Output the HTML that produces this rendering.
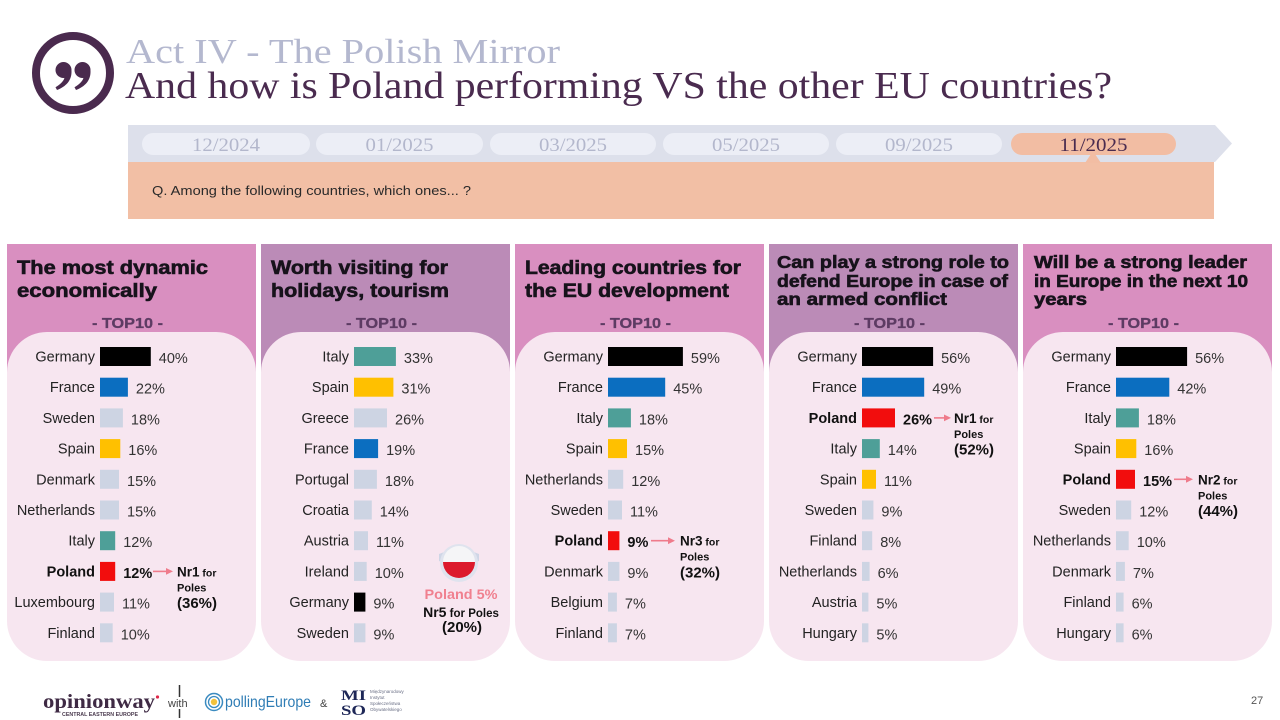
<!DOCTYPE html>
<html><head><meta charset="utf-8">
<style>
html,body{margin:0;padding:0;background:#fff;}
svg{display:block;}
.s{font-family:"Liberation Sans",sans-serif;}
.sf{font-family:"Liberation Serif",serif;}
.lb{font-family:"Liberation Sans",sans-serif;font-size:14.5px;fill:#222;text-anchor:end;}
.vl{font-family:"Liberation Sans",sans-serif;font-size:14.5px;fill:#333;}
.b{font-weight:bold;fill:#111;}
.ht{font-family:"Liberation Sans",sans-serif;font-weight:bold;fill:#17121b;stroke:#17121b;stroke-width:0.6px;}
.tp{font-family:"Liberation Sans",sans-serif;font-weight:bold;font-size:14.5px;fill:#5d3b63;stroke:#5d3b63;stroke-width:0.3px;text-anchor:middle;}
.an{font-family:"Liberation Sans",sans-serif;font-weight:bold;fill:#111;}
.pl{font-family:"Liberation Serif",serif;font-size:19px;fill:#b3b7cc;text-anchor:middle;}
</style></head>
<body>
<svg width="1280" height="720" viewBox="0 0 1280 720" xmlns="http://www.w3.org/2000/svg">
<rect width="1280" height="720" fill="#fff"/>

<!-- quote icon -->
<circle cx="73" cy="73" r="37" fill="none" stroke="#4a2a4e" stroke-width="8"/>
<circle cx="63.5" cy="70" r="8" fill="#4a2a4e"/>
<path d="M71.5,70.5 C72,80.5 66,86.5 57,90 L55.5,87.2 C61,84 64,80.5 64.5,77.5 Z" fill="#4a2a4e"/>
<circle cx="82.5" cy="70" r="8" fill="#4a2a4e"/>
<path d="M90.5,70.5 C91,80.5 85,86.5 76,90 L74.5,87.2 C80,84 83,80.5 83.5,77.5 Z" fill="#4a2a4e"/>

<!-- titles -->
<text class="sf" x="126" y="63" font-size="35" fill="#b4b8cf" textLength="434" lengthAdjust="spacingAndGlyphs">Act IV - The Polish Mirror</text>
<text class="sf" x="125" y="98" font-size="38.5" fill="#4a2b4f" textLength="987" lengthAdjust="spacingAndGlyphs">And how is Poland performing VS the other EU countries?</text>

<!-- timeline band -->
<polygon points="128,125 1215,125 1232,143.5 1215,162 128,162" fill="#dde0eb"/>
<rect x="128" y="162" width="1086" height="57" fill="#f2bfa5"/>
<rect x="142" y="133" width="168" height="22" rx="11" fill="#eceef6"/>
<rect x="316" y="133" width="167" height="22" rx="11" fill="#eceef6"/>
<rect x="490" y="133" width="166" height="22" rx="11" fill="#eceef6"/>
<rect x="663" y="133" width="166" height="22" rx="11" fill="#eceef6"/>
<rect x="836" y="133" width="166" height="22" rx="11" fill="#eceef6"/>
<rect x="1011" y="133" width="165" height="22" rx="11" fill="#f2bda3"/>
<polygon points="1085,163 1093,151 1101,163" fill="#f2bda3"/>
<text class="pl" x="226" y="151" textLength="68" lengthAdjust="spacingAndGlyphs">12/2024</text>
<text class="pl" x="399.5" y="151" textLength="68" lengthAdjust="spacingAndGlyphs">01/2025</text>
<text class="pl" x="573" y="151" textLength="68" lengthAdjust="spacingAndGlyphs">03/2025</text>
<text class="pl" x="746" y="151" textLength="68" lengthAdjust="spacingAndGlyphs">05/2025</text>
<text class="pl" x="919" y="151" textLength="68" lengthAdjust="spacingAndGlyphs">09/2025</text>
<text class="pl" x="1093.5" y="151" textLength="68" lengthAdjust="spacingAndGlyphs" style="fill:#4a2b4f">11/2025</text>
<text class="s" x="152" y="195" font-size="13" fill="#2a2a2a" textLength="319" lengthAdjust="spacingAndGlyphs">Q. Among the following countries, which ones... ?</text>

<!-- panel backgrounds -->
<rect x="7" y="244" width="249" height="130" fill="#d98fc0"/>
<rect x="261" y="244" width="249" height="130" fill="#bb8bb7"/>
<rect x="515" y="244" width="249" height="130" fill="#d98fc0"/>
<rect x="769" y="244" width="249" height="130" fill="#bb8bb7"/>
<rect x="1023" y="244" width="249" height="130" fill="#d98fc0"/>
<rect x="7" y="332" width="249" height="329" rx="40" fill="#f7e6f0"/>
<rect x="261" y="332" width="249" height="329" rx="40" fill="#f7e6f0"/>
<rect x="515" y="332" width="249" height="329" rx="40" fill="#f7e6f0"/>
<rect x="769" y="332" width="249" height="329" rx="40" fill="#f7e6f0"/>
<rect x="1023" y="332" width="249" height="329" rx="40" fill="#f7e6f0"/>

<!-- panel titles -->
<text class="ht" x="17" y="274" font-size="19" textLength="191" lengthAdjust="spacingAndGlyphs">The most dynamic</text>
<text class="ht" x="17" y="297" font-size="19" textLength="140" lengthAdjust="spacingAndGlyphs">economically</text>
<text class="ht" x="271" y="274" font-size="19" textLength="177" lengthAdjust="spacingAndGlyphs">Worth visiting for</text>
<text class="ht" x="271" y="297" font-size="19" textLength="178" lengthAdjust="spacingAndGlyphs">holidays, tourism</text>
<text class="ht" x="525" y="274" font-size="19" textLength="216" lengthAdjust="spacingAndGlyphs">Leading countries for</text>
<text class="ht" x="525" y="297" font-size="19" textLength="204" lengthAdjust="spacingAndGlyphs">the EU development</text>
<text class="ht" x="777" y="268" font-size="17.5" textLength="232" lengthAdjust="spacingAndGlyphs">Can play a strong role to</text>
<text class="ht" x="777" y="287" font-size="17.5" textLength="231" lengthAdjust="spacingAndGlyphs">defend Europe in case of</text>
<text class="ht" x="777" y="305" font-size="17.5" textLength="170" lengthAdjust="spacingAndGlyphs">an armed conflict</text>
<text class="ht" x="1034" y="268" font-size="17.5" textLength="213" lengthAdjust="spacingAndGlyphs">Will be a strong leader</text>
<text class="ht" x="1034" y="287" font-size="17.5" textLength="214" lengthAdjust="spacingAndGlyphs">in Europe in the next 10</text>
<text class="ht" x="1034" y="305" font-size="17.5" textLength="53" lengthAdjust="spacingAndGlyphs">years</text>

<text class="tp" x="127.5" y="328" textLength="71" lengthAdjust="spacingAndGlyphs">- TOP10 -</text>
<text class="tp" x="381.5" y="328" textLength="71" lengthAdjust="spacingAndGlyphs">- TOP10 -</text>
<text class="tp" x="635.5" y="328" textLength="71" lengthAdjust="spacingAndGlyphs">- TOP10 -</text>
<text class="tp" x="889.5" y="328" textLength="71" lengthAdjust="spacingAndGlyphs">- TOP10 -</text>
<text class="tp" x="1143.5" y="328" textLength="71" lengthAdjust="spacingAndGlyphs">- TOP10 -</text>

<!-- PANEL 1 -->
<text class="lb" x="95" y="361.5">Germany</text><rect x="100" y="347" width="50.8" height="19" fill="#000"/><text class="vl" x="158.8" y="363">40%</text>
<text class="lb" x="95" y="392.2">France</text><rect x="100" y="377.7" width="27.9" height="19" fill="#0b6ec0"/><text class="vl" x="135.9" y="393.7">22%</text>
<text class="lb" x="95" y="422.9">Sweden</text><rect x="100" y="408.4" width="22.9" height="19" fill="#cdd4e3"/><text class="vl" x="130.9" y="424.4">18%</text>
<text class="lb" x="95" y="453.6">Spain</text><rect x="100" y="439.1" width="20.3" height="19" fill="#ffc000"/><text class="vl" x="128.3" y="455.1">16%</text>
<text class="lb" x="95" y="484.3">Denmark</text><rect x="100" y="469.8" width="19" height="19" fill="#cdd4e3"/><text class="vl" x="127" y="485.8">15%</text>
<text class="lb" x="95" y="515">Netherlands</text><rect x="100" y="500.5" width="19" height="19" fill="#cdd4e3"/><text class="vl" x="127" y="516.5">15%</text>
<text class="lb" x="95" y="545.7">Italy</text><rect x="100" y="531.2" width="15.2" height="19" fill="#4e9f98"/><text class="vl" x="123.2" y="547.2">12%</text>
<text class="lb b" x="95" y="576.4">Poland</text><rect x="100" y="561.9" width="15.2" height="19" fill="#f20d0d"/><text class="vl b" x="123.2" y="577.9">12%</text>
<text class="lb" x="95" y="607.1">Luxembourg</text><rect x="100" y="592.6" width="14" height="19" fill="#cdd4e3"/><text class="vl" x="122" y="608.6">11%</text>
<text class="lb" x="95" y="637.8">Finland</text><rect x="100" y="623.3" width="12.7" height="19" fill="#cdd4e3"/><text class="vl" x="120.7" y="639.3">10%</text>
<line x1="153" y1="571.4" x2="167" y2="571.4" stroke="#ef7b8b" stroke-width="1.6"/><polygon points="166,568 173,571.4 166,574.8" fill="#ef7b8b"/>
<text class="an" x="177" y="576.4"><tspan font-size="13.5">Nr1</tspan><tspan font-size="10.5"> for</tspan></text>
<text class="an" x="177" y="591.4" font-size="11">Poles</text>
<text class="an" x="177" y="608" font-size="15">(36%)</text>

<!-- PANEL 2 -->
<text class="lb" x="349" y="361.5">Italy</text><rect x="354" y="347" width="41.9" height="19" fill="#4e9f98"/><text class="vl" x="403.9" y="363">33%</text>
<text class="lb" x="349" y="392.2">Spain</text><rect x="354" y="377.7" width="39.4" height="19" fill="#ffc000"/><text class="vl" x="401.4" y="393.7">31%</text>
<text class="lb" x="349" y="422.9">Greece</text><rect x="354" y="408.4" width="33" height="19" fill="#cdd4e3"/><text class="vl" x="395" y="424.4">26%</text>
<text class="lb" x="349" y="453.6">France</text><rect x="354" y="439.1" width="24.1" height="19" fill="#0b6ec0"/><text class="vl" x="386.1" y="455.1">19%</text>
<text class="lb" x="349" y="484.3">Portugal</text><rect x="354" y="469.8" width="22.9" height="19" fill="#cdd4e3"/><text class="vl" x="384.9" y="485.8">18%</text>
<text class="lb" x="349" y="515">Croatia</text><rect x="354" y="500.5" width="17.8" height="19" fill="#cdd4e3"/><text class="vl" x="379.8" y="516.5">14%</text>
<text class="lb" x="349" y="545.7">Austria</text><rect x="354" y="531.2" width="14" height="19" fill="#cdd4e3"/><text class="vl" x="376" y="547.2">11%</text>
<text class="lb" x="349" y="576.4">Ireland</text><rect x="354" y="561.9" width="12.7" height="19" fill="#cdd4e3"/><text class="vl" x="374.7" y="577.9">10%</text>
<text class="lb" x="349" y="607.1">Germany</text><rect x="354" y="592.6" width="11.4" height="19" fill="#000"/><text class="vl" x="373.4" y="608.6">9%</text>
<text class="lb" x="349" y="637.8">Sweden</text><rect x="354" y="623.3" width="11.4" height="19" fill="#cdd4e3"/><text class="vl" x="373.4" y="639.3">9%</text>
<!-- flag badge -->
<polygon points="439,554 447,551 447,564 439,561" fill="#cfd6e6"/>
<polygon points="479,554 471,551 471,564 479,561" fill="#cfd6e6"/>
<circle cx="459" cy="563" r="19" fill="#dfe3ee"/>
<path d="M443,562 A16,16 0 0 1 475,562 Z" fill="#f5f5f7"/>
<path d="M443,562 A16,16 0 0 0 475,562 Z" fill="#dc1a2c"/>
<text class="an" x="461" y="599" font-size="14" text-anchor="middle" style="fill:#f0808f" textLength="73" lengthAdjust="spacingAndGlyphs">Poland 5%</text>
<text class="an" x="461" y="617" text-anchor="middle"><tspan font-size="14">Nr5</tspan><tspan font-size="11.5"> for Poles</tspan></text>
<text class="an" x="462" y="632" font-size="15" text-anchor="middle">(20%)</text>

<!-- PANEL 3 -->
<text class="lb" x="603" y="361.5">Germany</text><rect x="608" y="347" width="74.9" height="19" fill="#000"/><text class="vl" x="690.9" y="363">59%</text>
<text class="lb" x="603" y="392.2">France</text><rect x="608" y="377.7" width="57.2" height="19" fill="#0b6ec0"/><text class="vl" x="673.2" y="393.7">45%</text>
<text class="lb" x="603" y="422.9">Italy</text><rect x="608" y="408.4" width="22.9" height="19" fill="#4e9f98"/><text class="vl" x="638.9" y="424.4">18%</text>
<text class="lb" x="603" y="453.6">Spain</text><rect x="608" y="439.1" width="19" height="19" fill="#ffc000"/><text class="vl" x="635" y="455.1">15%</text>
<text class="lb" x="603" y="484.3">Netherlands</text><rect x="608" y="469.8" width="15.2" height="19" fill="#cdd4e3"/><text class="vl" x="631.2" y="485.8">12%</text>
<text class="lb" x="603" y="515">Sweden</text><rect x="608" y="500.5" width="14" height="19" fill="#cdd4e3"/><text class="vl" x="630" y="516.5">11%</text>
<text class="lb b" x="603" y="545.7">Poland</text><rect x="608" y="531.2" width="11.4" height="19" fill="#f20d0d"/><text class="vl b" x="627.4" y="547.2">9%</text>
<text class="lb" x="603" y="576.4">Denmark</text><rect x="608" y="561.9" width="11.4" height="19" fill="#cdd4e3"/><text class="vl" x="627.4" y="577.9">9%</text>
<text class="lb" x="603" y="607.1">Belgium</text><rect x="608" y="592.6" width="8.9" height="19" fill="#cdd4e3"/><text class="vl" x="624.9" y="608.6">7%</text>
<text class="lb" x="603" y="637.8">Finland</text><rect x="608" y="623.3" width="8.9" height="19" fill="#cdd4e3"/><text class="vl" x="624.9" y="639.3">7%</text>
<line x1="651" y1="540.7" x2="669" y2="540.7" stroke="#ef7b8b" stroke-width="1.6"/><polygon points="668,537.3 675,540.7 668,544.1" fill="#ef7b8b"/>
<text class="an" x="680" y="545.7"><tspan font-size="13.5">Nr3</tspan><tspan font-size="10.5"> for</tspan></text>
<text class="an" x="680" y="560.7" font-size="11">Poles</text>
<text class="an" x="680" y="577.3" font-size="15">(32%)</text>

<!-- PANEL 4 -->
<text class="lb" x="857" y="361.5">Germany</text><rect x="862" y="347" width="71.1" height="19" fill="#000"/><text class="vl" x="941.1" y="363">56%</text>
<text class="lb" x="857" y="392.2">France</text><rect x="862" y="377.7" width="62.2" height="19" fill="#0b6ec0"/><text class="vl" x="932.2" y="393.7">49%</text>
<text class="lb b" x="857" y="422.9">Poland</text><rect x="862" y="408.4" width="33" height="19" fill="#f20d0d"/><text class="vl b" x="903" y="424.4">26%</text>
<text class="lb" x="857" y="453.6">Italy</text><rect x="862" y="439.1" width="17.8" height="19" fill="#4e9f98"/><text class="vl" x="887.8" y="455.1">14%</text>
<text class="lb" x="857" y="484.3">Spain</text><rect x="862" y="469.8" width="14" height="19" fill="#ffc000"/><text class="vl" x="884" y="485.8">11%</text>
<text class="lb" x="857" y="515">Sweden</text><rect x="862" y="500.5" width="11.4" height="19" fill="#cdd4e3"/><text class="vl" x="881.4" y="516.5">9%</text>
<text class="lb" x="857" y="545.7">Finland</text><rect x="862" y="531.2" width="10.2" height="19" fill="#cdd4e3"/><text class="vl" x="880.2" y="547.2">8%</text>
<text class="lb" x="857" y="576.4">Netherlands</text><rect x="862" y="561.9" width="7.6" height="19" fill="#cdd4e3"/><text class="vl" x="877.6" y="577.9">6%</text>
<text class="lb" x="857" y="607.1">Austria</text><rect x="862" y="592.6" width="6.4" height="19" fill="#cdd4e3"/><text class="vl" x="876.4" y="608.6">5%</text>
<text class="lb" x="857" y="637.8">Hungary</text><rect x="862" y="623.3" width="6.4" height="19" fill="#cdd4e3"/><text class="vl" x="876.4" y="639.3">5%</text>
<line x1="934" y1="417.9" x2="945" y2="417.9" stroke="#ef7b8b" stroke-width="1.6"/><polygon points="944,414.5 951,417.9 944,421.3" fill="#ef7b8b"/>
<text class="an" x="954" y="422.9"><tspan font-size="13.5">Nr1</tspan><tspan font-size="10.5"> for</tspan></text>
<text class="an" x="954" y="437.9" font-size="11">Poles</text>
<text class="an" x="954" y="454.5" font-size="15">(52%)</text>

<!-- PANEL 5 -->
<text class="lb" x="1111" y="361.5">Germany</text><rect x="1116" y="347" width="71.1" height="19" fill="#000"/><text class="vl" x="1195.1" y="363">56%</text>
<text class="lb" x="1111" y="392.2">France</text><rect x="1116" y="377.7" width="53.3" height="19" fill="#0b6ec0"/><text class="vl" x="1177.3" y="393.7">42%</text>
<text class="lb" x="1111" y="422.9">Italy</text><rect x="1116" y="408.4" width="22.9" height="19" fill="#4e9f98"/><text class="vl" x="1146.9" y="424.4">18%</text>
<text class="lb" x="1111" y="453.6">Spain</text><rect x="1116" y="439.1" width="20.3" height="19" fill="#ffc000"/><text class="vl" x="1144.3" y="455.1">16%</text>
<text class="lb b" x="1111" y="484.3">Poland</text><rect x="1116" y="469.8" width="19" height="19" fill="#f20d0d"/><text class="vl b" x="1143" y="485.8">15%</text>
<text class="lb" x="1111" y="515">Sweden</text><rect x="1116" y="500.5" width="15.2" height="19" fill="#cdd4e3"/><text class="vl" x="1139.2" y="516.5">12%</text>
<text class="lb" x="1111" y="545.7">Netherlands</text><rect x="1116" y="531.2" width="12.7" height="19" fill="#cdd4e3"/><text class="vl" x="1136.7" y="547.2">10%</text>
<text class="lb" x="1111" y="576.4">Denmark</text><rect x="1116" y="561.9" width="8.9" height="19" fill="#cdd4e3"/><text class="vl" x="1132.9" y="577.9">7%</text>
<text class="lb" x="1111" y="607.1">Finland</text><rect x="1116" y="592.6" width="7.6" height="19" fill="#cdd4e3"/><text class="vl" x="1131.6" y="608.6">6%</text>
<text class="lb" x="1111" y="637.8">Hungary</text><rect x="1116" y="623.3" width="7.6" height="19" fill="#cdd4e3"/><text class="vl" x="1131.6" y="639.3">6%</text>
<line x1="1174" y1="479.3" x2="1187" y2="479.3" stroke="#ef7b8b" stroke-width="1.6"/><polygon points="1186,475.9 1193,479.3 1186,482.7" fill="#ef7b8b"/>
<text class="an" x="1198" y="484.3"><tspan font-size="13.5">Nr2</tspan><tspan font-size="10.5"> for</tspan></text>
<text class="an" x="1198" y="499.3" font-size="11">Poles</text>
<text class="an" x="1198" y="516" font-size="15">(44%)</text>

<!-- footer -->
<text class="sf" x="43" y="708" font-size="20" font-weight="bold" fill="#3f2a44" textLength="112" lengthAdjust="spacingAndGlyphs">opinionway</text>
<circle cx="157.5" cy="697" r="1.6" fill="#e0284a"/>
<text class="s" x="62" y="716" font-size="5.5" font-weight="bold" fill="#4a3a4e" textLength="76" lengthAdjust="spacingAndGlyphs">CENTRAL EASTERN EUROPE</text>
<line x1="179.5" y1="685" x2="179.5" y2="697" stroke="#333" stroke-width="1.5"/>
<line x1="179.5" y1="709" x2="179.5" y2="718" stroke="#333" stroke-width="1.5"/>
<text class="s" x="168" y="707" font-size="11" fill="#444">with</text>
<circle cx="214" cy="702" r="8.5" fill="none" stroke="#3b8bc0" stroke-width="1.5"/>
<circle cx="214" cy="702" r="5.5" fill="none" stroke="#3b8bc0" stroke-width="1.3"/>
<circle cx="214" cy="702" r="3.2" fill="#f3c23c"/>
<text class="s" x="225" y="707" font-size="16" fill="#2f7db5" textLength="86" lengthAdjust="spacingAndGlyphs">pollingEurope</text>
<text class="s" x="320" y="707" font-size="11" fill="#444">&amp;</text>
<text class="sf" x="341" y="700" font-size="15" font-weight="bold" fill="#1e2757" textLength="25" lengthAdjust="spacingAndGlyphs">MI</text>
<text class="sf" x="341" y="715" font-size="15" font-weight="bold" fill="#1e2757" textLength="25" lengthAdjust="spacingAndGlyphs">SO</text>
<text class="s" x="370" y="693" font-size="4.5" fill="#6a6f85">Międzynarodowy</text>
<text class="s" x="370" y="699" font-size="4.5" fill="#6a6f85">Instytut</text>
<text class="s" x="370" y="705" font-size="4.5" fill="#6a6f85">Społeczeństwa</text>
<text class="s" x="370" y="711" font-size="4.5" fill="#6a6f85">Obywatelskiego</text>
<text class="s" x="1251" y="704" font-size="11" fill="#555">27</text>
</svg>
</body></html>
